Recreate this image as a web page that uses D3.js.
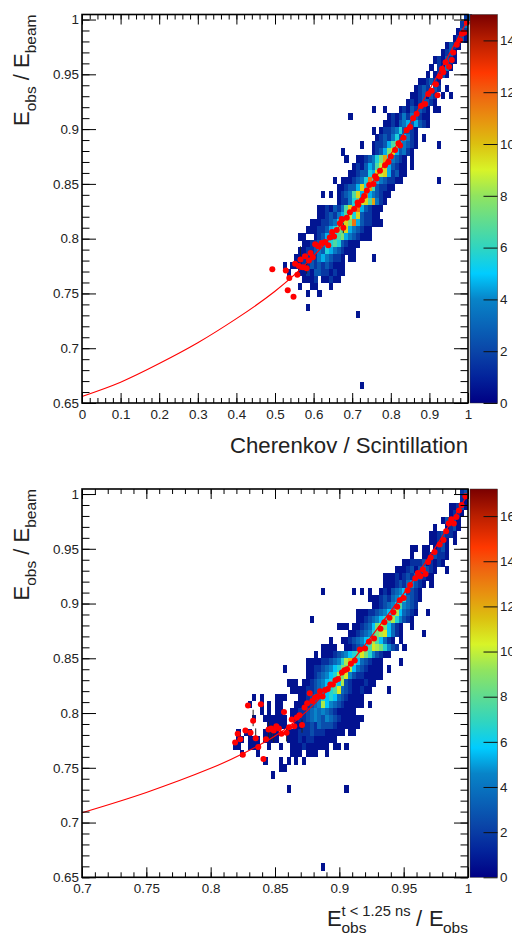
<!DOCTYPE html>
<html>
<head>
<meta charset="utf-8">
<script src="https://cdn.jsdelivr.net/npm/d3@7"></script>
<style>
html, body { margin: 0; padding: 0; background: #fff; }
svg { display: block; }
text { font-family: "Liberation Sans", Arial, sans-serif; fill: #222; }
</style>
</head>
<body>
<svg width="512" height="935"></svg>
<script>
"use strict";
// histogram rows: [y bin, first x bin, counts in hex, '.' = empty]
const topCells = [
  [54, 99, "23"], [53, 98, "24"], [52, 97, "132"], [51, 96, "1231"], [50, 94, "1321"],
  [49, 93, "1231"], [48, 91, "121321"], [47, 90, "1.2141"], [46, 89, "1.1231"], [45, 87, "112321"],
  [44, 86, "1232.32.1"], [43, 85, "1123132.1.1"], [42, 84, "12123321"],
  [41, 75, "1..1...12132321.11"], [40, 69, "1.........12124243211"], [39, 78, "112134535321"],
  [38, 75, "1.1223463321"], [37, 76, "12324635421.1"], [36, 72, "1..122357854321.....1"],
  [35, 67, "1.......12358A53421"], [34, 68, "1..1123468B64321.1"], [33, 70, "12135479A53211.1"],
  [32, 69, "1123365A9A52311"], [31, 65, "1.1112346C75432211.........1"], [30, 66, "112335A6B732211"],
  [29, 62, "1.1.12347A5C543211"], [28, 66, "1224679A7B421"], [27, 61, "11213247A6C532111"],
  [26, 61, "1123245796A32211"], [25, 59, "111223467A8C5322111"], [24, 58, "1112235687A543211"],
  [23, 56, "11..123546785432111"], [22, 57, "112234567632111"], [21, 56, "112234365432111"],
  [20, 55, "1122324543221.11....1"], [19, 52, "1.11122323232111"], [18, 53, "1..112133221211"],
  [17, 57, "1112.11211"], [16, 56, "1..11...1"], [15, 58, "1..1"], [13, 58, "1"], [12, 71, "1"], [2, 72, "1"]
];
const botCells = [
  [54, 98, "23"], [53, 98, "21"], [52, 95, "11231"], [51, 95, "1221"], [50, 93, "13231"],
  [49, 91, "1..1231"], [48, 90, "1123221"], [47, 90, "11231.1"], [46, 85, "11.11.1231"],
  [45, 85, "1..1123221"], [44, 83, "11222312121"], [43, 81, "11123134321..1"], [42, 78, "1112123243211"],
  [41, 78, "11123245321.1"], [40, 62, "1.......1.1.1..12134563321"], [39, 74, "11123245674321"],
  [38, 75, "112345685432"], [37, 71, "1112234567A64321..1"], [36, 59, "1...........112345678A75321"],
  [35, 66, "111.1123469A96421..1"], [34, 69, "11234579AB6421.....1"], [33, 64, "1..11234567A86421.1"],
  [32, 62, "1111..1123468BA97532.1"], [31, 60, "1.1112345678B9753211"], [30, 58, "1111223457AC96432111....1"],
  [29, 52, "1.....11223456799A64321111.1"], [28, 58, "11234567A9B532211111"],
  [27, 53, "111.1123456786A32111211"], [26, 54, "111122345678B43211211....1"],
  [25, 44, "1.1...111...11234576764321111"], [24, 43, "1..1.1.11...1112345A6543211111.1"],
  [23, 46, "1.1.11..11223454543211111"], [22, 44, "1..111111.1122345435432111111"],
  [21, 48, "11111..11223243332111111"], [20, 40, "1.11...1111..111222322211111.11"],
  [19, 40, "11.111.1111..1112122111111"], [18, 39, "11..111..1..1..1112111111.11.1"],
  [17, 41, "1...1........111.111..1"], [16, 47, "1...1.1.1.1"], [15, 51, "11"], [14, 49, "1"],
  [12, 53, "1..............1"], [1, 62, "1"]
];

// profile points
const topProfX = [.493, .528, .533, .537, .548, .552, .558, .562, .566, .572, .578, .582, .588, .592, .598, .604, .612, .621, .630, .638, .642, .648, .653, .660, .668, .673, .677, .686, .694, .705, .714, .716, .725, .731, .738, .744, .755, .759, .763, .772, .785, .794, .800, .811, .820, .824, .833, .841, .850, .858, .867, .878, .889, .897, .906, .917, .921, .927, .933, .936, .942, .951, .958, .962, .971, .979, .984, .990, .997];
const topProfY = [.772, .771, .753, .764, .747, .777, .767, .775, .781, .774, .784, .773, .780, .787, .783, .795, .793, .796, .797, .794, .801, .806, .802, .808, .814, .818, .810, .819, .824, .827, .833, .831, .835, .839, .844, .849, .850, .857, .855, .862, .867, .870, .875, .881, .887, .885, .892, .899, .902, .910, .914, .921, .923, .932, .935, .941, .931, .948, .955, .952, .961, .957, .963, .970, .977, .981, .987, .988, .997];
const botProfX = [.819, .821, .823, .825, .827, .829, .831, .833, .835, .837, .839, .841, .843, .845, .847, .849, .851, .853, .855, .857, .859, .861, .863, .865, .867, .869, .871, .873, .875, .877, .879, .881, .883, .885, .887, .889, .891, .893, .895, .897, .899, .902, .904, .906, .909, .912, .916, .920, .923, .927, .932, .935, .939, .942, .945, .947, .950, .953, .955, .959, .961, .963, .965, .967, .969, .971, .974, .978, .981, .983, .985, .987, .989, .991, .993, .995, .998];
const botProfY = [.773, .781, .776, .762, .784, .807, .782, .793, .777, .769, .808, .758, .776, .785, .786, .784, .788, .786, .781, .801, .782, .787, .794, .788, .796, .798, .789, .805, .809, .818, .811, .814, .815, .820, .815, .821, .822, .826, .826, .830, .831, .837, .839, .840, .845, .848, .858, .859, .865, .868, .877, .883, .887, .892, .897, .903, .905, .912, .917, .923, .928, .925, .931, .927, .938, .942, .947, .954, .958, .966, .973, .977, .973, .979, .985, .990, .998];

// the few error bars that stick out of the markers: [x, low, high]
const topErrBars = [[.566, .781, .793], [.582, .768, .779], [.677, .805, .814]];
const botErrBars = [[.833, .788, .803], [.835, .775, .786], [.845, .777, .792], [.847, .775, .789], [.849, .773, .789], [.859, .774, .786], [.871, .782, .794]];

// fit curves
const topFitX = [0, .1, .2, .3, .4, .5, .6, .7, .8, .9, 1];
const topFitY = [.656, .669, .686, .705, .727, .752, .784, .826, .877, .936, 1];
const botFitX = [.7, .75, .8, .825, .85, .875, .9, .925, .95, .975, 1];
const botFitY = [.709, .7275, .7495, .763, .779, .802, .833, .87, .909, .952, 1];

const topXTicks = d3.range(0, 11).map(d => d / 10);
const botXTicks = [.7, .75, .8, .85, .9, .95, 1];
const yTicks = [.65, .7, .75, .8, .85, .9, .95, 1];
const topZTicks = [0, 2, 4, 6, 8, 10, 12, 14];
const botZTicks = [0, 2, 4, 6, 8, 10, 12, 14, 16];

// palette, as fraction of the z range
const paletteAt = [0, .067, .133, .267, .333, .4, .467, .533, .6, .667, .733, .8, .85, .933, 1];
const paletteCol = ["#000084", "#03239b", "#0a45a8", "#0884c8", "#00ccff", "#30d5c0", "#60dc90", "#90e460", "#d8f428", "#dcc010", "#e89010", "#f06010", "#ff3800", "#b81e00", "#7a0000"];

const svg = d3.select("svg");
const yBinW = .355 / 55;
const plotL = 82, plotR = 468;
const palette = d3.scaleLinear().domain(paletteAt).range(paletteCol);

function fmt(d) { return String(+d.toFixed(2)); }

function drawPanel(p) {
    const g = svg.append("g");
    const x = d3.scaleLinear().domain(p.xDomain).range([plotL, plotR]);
    const y = d3.scaleLinear().domain([.65, 1.0046]).range([p.bottom, p.top]);
    const z = d3.scaleLinear().domain([0, p.zMax]).range([p.bottom, p.top]);
    const xBinW = (p.xDomain[1] - p.xDomain[0]) / 100;

    const cells = [];
    p.cells.forEach(r => {
        r[2].split("").forEach((c, i) => {
            if (c !== ".") cells.push({ col: r[1] + i, row: r[0], n: parseInt(c, 16) });
        });
    });
    g.append("g").style("filter", "blur(0.35px)").selectAll("rect")
        .data(cells)
        .enter()
        .append("rect")
        .attr("shape-rendering", "crispEdges")
        .attr("x", d => x(p.xDomain[0] + d.col * xBinW))
        .attr("width", x(p.xDomain[0] + xBinW) - x(p.xDomain[0]) + .3)
        .attr("y", d => y(.65 + (d.row + 1) * yBinW))
        .attr("height", y(.65) - y(.65 + yBinW) + .3)
        .attr("fill", d => palette((d.n - .4) / p.zMax));

    g.append("g").selectAll("line")
        .data(p.errBars)
        .enter()
        .append("line")
        .attr("x1", d => x(d[0])).attr("x2", d => x(d[0]))
        .attr("y1", d => y(d[1])).attr("y2", d => y(d[2]))
        .attr("stroke", "#222");

    const fit = d3.line().x(d => x(d[0])).y(d => y(d[1])).curve(d3.curveNatural);
    g.append("path")
        .attr("d", fit(d3.zip(p.fitX, p.fitY)))
        .attr("fill", "none")
        .attr("stroke", "#f00")
        .attr("stroke-width", 1.1);

    g.append("g").selectAll("circle")
        .data(d3.zip(p.profX, p.profY))
        .enter()
        .append("circle")
        .attr("cx", d => x(d[0]))
        .attr("cy", d => y(d[1]))
        .attr("r", 3)
        .attr("fill", "#f00");

    // colour bar
    const gradId = "pal" + p.top;
    const grad = svg.append("defs").append("linearGradient")
        .attr("id", gradId).attr("x1", 0).attr("x2", 0).attr("y1", 1).attr("y2", 0);
    grad.selectAll("stop").data(paletteAt).enter().append("stop")
        .attr("offset", d => d)
        .attr("stop-color", (d, i) => paletteCol[i]);
    g.append("rect")
        .attr("x", 470).attr("width", 27.5)
        .attr("y", p.top).attr("height", p.bottom - p.top)
        .attr("fill", "url(#" + gradId + ")")
        .attr("stroke", "#333").attr("stroke-width", .5);
    const zAxis = d3.axisRight(z).tickValues(p.zTicks).tickSize(-14).tickPadding(17).tickFormat(d3.format("d"));
    const zg = g.append("g").attr("transform", "translate(497.5,0)").call(zAxis);
    zg.select(".domain").remove();
    zg.selectAll("text").attr("font-size", 13.4).attr("x", 2.5);
    zg.selectAll("line").attr("stroke", "#111");

    // frame
    g.append("rect")
        .attr("x", plotL).attr("y", p.top)
        .attr("width", plotR - plotL).attr("height", p.bottom - p.top)
        .attr("fill", "none").attr("stroke", "#000").attr("stroke-width", 1.6);

    // ticks, major and minor on all four sides
    const xMinor = d3.range(p.xDomain[0], p.xDomain[1] + 1e-6, p.xMinorStep);
    const yMinor = d3.range(.65, 1.0001, .01);
    const tickG = g.append("g");
    const tick = (axis, tr) => {
        const a = tickG.append("g").attr("transform", tr).call(axis.tickFormat(""));
        a.select(".domain").remove();
        a.selectAll("line").attr("stroke", "#000");
        return a;
    };
    tick(d3.axisBottom(x).tickValues(xMinor).tickSize(-5), `translate(0,${p.bottom})`);
    tick(d3.axisBottom(x).tickValues(p.xTicks).tickSize(-10), `translate(0,${p.bottom})`);
    tick(d3.axisTop(x).tickValues(xMinor).tickSize(-5), `translate(0,${p.top})`);
    tick(d3.axisTop(x).tickValues(p.xTicks).tickSize(-10), `translate(0,${p.top})`);
    tick(d3.axisLeft(y).tickValues(yMinor).tickSize(-7.5), `translate(${plotL},0)`);
    tick(d3.axisLeft(y).tickValues(yTicks).tickSize(-14), `translate(${plotL},0)`);
    tick(d3.axisRight(y).tickValues(yMinor).tickSize(-7.5), `translate(${plotR},0)`);
    tick(d3.axisRight(y).tickValues(yTicks).tickSize(-14), `translate(${plotR},0)`);

    // tick labels
    const xl = g.append("g").attr("transform", `translate(0,${p.bottom})`)
        .call(d3.axisBottom(x).tickValues(p.xTicks).tickSize(0).tickPadding(6).tickFormat(fmt));
    xl.select(".domain").remove();
    xl.selectAll("text").attr("font-size", 13.4);
    const yl = g.append("g").attr("transform", `translate(${plotL},0)`)
        .call(d3.axisLeft(y).tickValues(yTicks).tickSize(0).tickPadding(3).tickFormat(fmt));
    yl.select(".domain").remove();
    yl.selectAll("text").attr("font-size", 13.4);

    // y title
    const yt = g.append("text")
        .attr("transform", `translate(29,${p.top}) rotate(-90)`)
        .attr("text-anchor", "end")
        .attr("font-size", 22);
    yt.append("tspan").text("E");
    yt.append("tspan").attr("font-size", 15.5).attr("dy", 7).text("obs");
    yt.append("tspan").attr("dy", -7).text(" / E");
    yt.append("tspan").attr("font-size", 15.5).attr("dy", 7).text("beam");
}

drawPanel({
    top: 14.5, bottom: 403, xDomain: [0, 1], xMinorStep: .02, xTicks: topXTicks,
    cells: topCells, errBars: topErrBars, fitX: topFitX, fitY: topFitY,
    profX: topProfX, profY: topProfY, zMax: 15, zTicks: topZTicks
});
drawPanel({
    top: 489, bottom: 877.3, xDomain: [.7, 1], xMinorStep: .01, xTicks: botXTicks,
    cells: botCells, errBars: botErrBars, fitX: botFitX, fitY: botFitY,
    profX: botProfX, profY: botProfY, zMax: 17.2, zTicks: botZTicks
});

svg.append("text")
    .attr("x", plotR).attr("y", 453)
    .attr("text-anchor", "end")
    .attr("font-size", 22.2)
    .text("Cherenkov / Scintillation");

// bottom x title, pieces put by hand
const title = svg.append("g");
title.append("text").attr("x", 327).attr("y", 926).attr("font-size", 22).text("E");
title.append("text").attr("x", 341.5).attr("y", 916).attr("font-size", 14.7).text("t < 1.25 ns");
title.append("text").attr("x", 341.5).attr("y", 933).attr("font-size", 15.5).text("obs");
title.append("text").attr("x", 416).attr("y", 926).attr("font-size", 22).text("/");
title.append("text").attr("x", 429).attr("y", 926).attr("font-size", 22).text("E");
title.append("text").attr("x", 443).attr("y", 933).attr("font-size", 15.5).text("obs");
</script>
</body>
</html>
